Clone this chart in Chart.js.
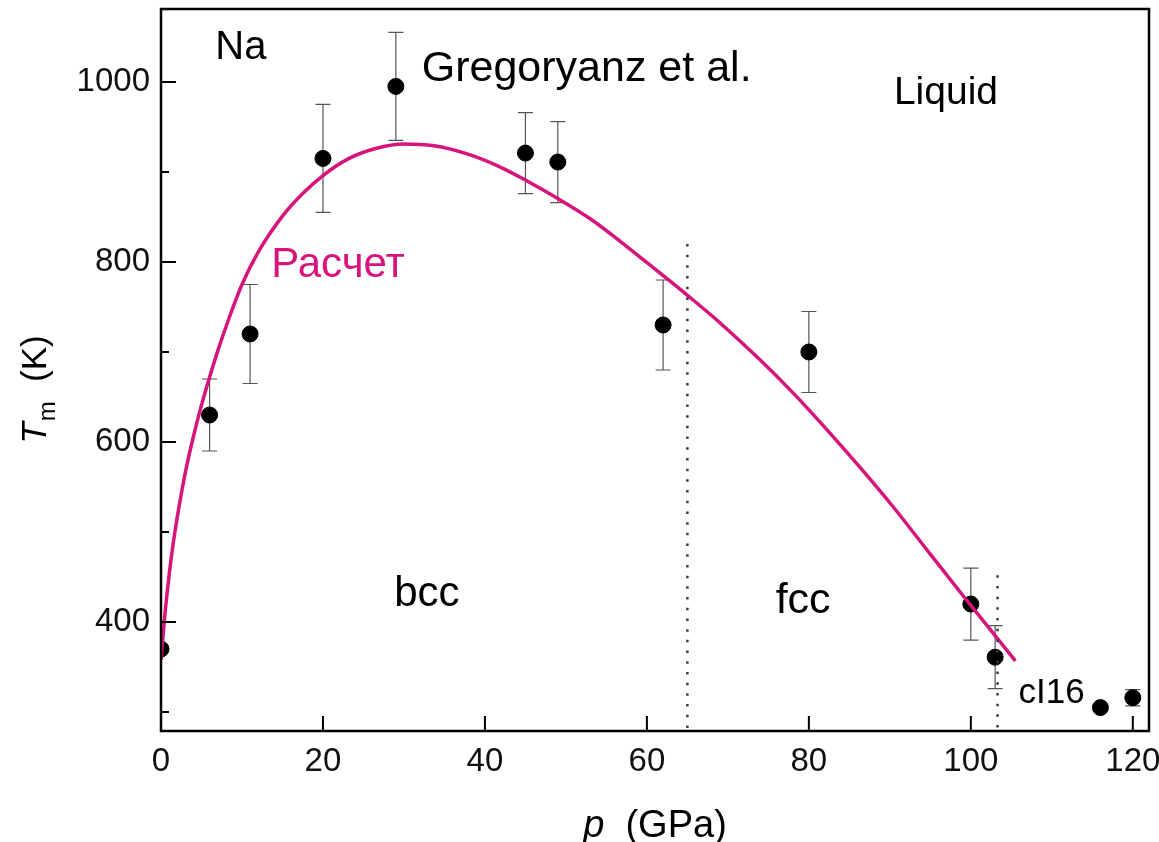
<!DOCTYPE html>
<html><head><meta charset="utf-8">
<script src="https://cdn.jsdelivr.net/npm/chart.js@4.4.1/dist/chart.umd.min.js"></script>
<style>html,body{margin:0;padding:0;background:#fff}#wrap{width:1159px;height:842px}</style>
</head><body><div id="wrap"><canvas id="c" width="1159" height="842"></canvas></div>
<script>
// Experimental data (Gregoryanz et al.)
const expP   = [0, 6, 11, 20, 29, 45, 49, 62, 80, 100, 103, 116, 120];
const expT   = [370, 630, 720, 915, 995, 921, 911, 730, 700, 420, 361, 305, 316];
const expErr = [0, 40, 55, 60, 60, 45, 45, 50, 45, 40, 35, 0, 9];
// Calculated melting curve (Расчет)
const calcP = [0, 0.5, 1, 1.5, 2, 3, 4, 5, 6, 7, 8.5, 10, 12, 15, 17.5, 20, 23, 26.5, 30, 33.7, 37.8, 41.5, 45.2, 49.1, 53, 56.7, 61.7, 65, 68.7, 74, 78.1, 82.3, 86.4, 90.5, 94.6, 98.8, 102.9, 105.5];
const calcT = [358, 410, 452, 487, 516, 566, 606, 641, 672, 701, 740, 775, 811, 851, 876, 896, 914, 926, 931, 929, 920, 907, 890, 870, 848, 823, 787, 763, 735, 691, 654, 613, 571, 527, 480, 432, 386, 357];
// Phase boundaries (dotted)
const boundaryP   = [65, 103.3];
const boundaryTop = [820, 452];
// Ticks
const xTicks = [0, 20, 40, 60, 80, 100, 120];
const yTicks = [400, 600, 800, 1000];
const yMinorTicks = [300, 500, 700, 900];
// Axis ranges
const xRange = [0, 122];
const yRange = [279, 1081];
// Text labels
const labelTexts = ['Na', 'Gregoryanz et al.', 'Liquid', 'Расчет', 'bcc', 'fcc', 'cI16'];
const labelP = [6.7, 32.2, 90.5, 13.6, 28.8, 75.9, 105.9];
const labelT = [1025, 1001, 975, 783, 418, 410, 310];

const FONT = '"Liberation Sans", Arial, sans-serif';
const MAGENTA = '#d6147c';
const labelFontPx = [40, 43, 39, 42, 42, 43, 35];
Chart.defaults.font.family = FONT;

const curveData = calcP.map((p, i) => ({x: p, y: calcT[i]}));
const expData = expP.map((p, i) => ({x: p, y: expT[i], e: expErr[i]}));
const boundaryDatasets = boundaryP.map((p, i) => ({
  type: 'line',
  data: [{x: p, y: boundaryTop[i]}, {x: p, y: yRange[0]}],
  borderColor: '#3a3a3a',
  borderWidth: 2.5,
  borderDash: [2.5, 8.2],
  pointRadius: 0,
  fill: false
}));

const errorBars = {
  id: 'errorBars',
  beforeDatasetsDraw(chart) {
    const {ctx, scales: {x, y}} = chart;
    ctx.save();
    ctx.strokeStyle = '#555';
    ctx.lineWidth = 1.2;
    expData.forEach(d => {
      if (!d.e) return;
      const px = x.getPixelForValue(d.x);
      const y1 = y.getPixelForValue(d.y + d.e);
      const y2 = y.getPixelForValue(d.y - d.e);
      ctx.beginPath();
      ctx.moveTo(px, y1); ctx.lineTo(px, y2);
      ctx.moveTo(px - 7.5, y1); ctx.lineTo(px + 7.5, y1);
      ctx.moveTo(px - 7.5, y2); ctx.lineTo(px + 7.5, y2);
      ctx.stroke();
    });
    ctx.restore();
  }
};

const decor = {
  id: 'decor',
  afterDraw(chart) {
    const {ctx, chartArea: a, scales: {x, y}} = chart;
    ctx.save();
    // frame
    ctx.strokeStyle = '#000';
    ctx.lineWidth = 2.5;
    ctx.strokeRect(a.left, a.top, a.right - a.left, a.bottom - a.top);
    // inside ticks
    ctx.lineWidth = 2;
    ctx.beginPath();
    xTicks.forEach(v => { const px = x.getPixelForValue(v); ctx.moveTo(px, a.bottom); ctx.lineTo(px, a.bottom - 15); });
    yTicks.forEach(v => { const py = y.getPixelForValue(v); ctx.moveTo(a.left, py); ctx.lineTo(a.left + 15, py); });
    yMinorTicks.forEach(v => { const py = y.getPixelForValue(v); ctx.moveTo(a.left, py); ctx.lineTo(a.left + 8, py); });
    ctx.stroke();
    // annotations
    ctx.textBaseline = 'alphabetic';
    ctx.textAlign = 'left';
    labelTexts.forEach((t, i) => {
      ctx.font = labelFontPx[i] + 'px ' + FONT;
      ctx.fillStyle = t === 'Расчет' ? MAGENTA : '#000';
      ctx.fillText(t, x.getPixelForValue(labelP[i]), y.getPixelForValue(labelT[i]));
    });
    // x title: p (GPa)
    ctx.fillStyle = '#000';
    const cx = (a.left + a.right) / 2;
    ctx.font = 'italic 38px ' + FONT;
    const w1 = ctx.measureText('p').width;
    ctx.font = '38px ' + FONT;
    const w2 = ctx.measureText('  (GPa)').width;
    let sx = cx - (w1 + w2) / 2;
    ctx.font = 'italic 38px ' + FONT;
    ctx.fillText('p', sx, 837);
    ctx.font = '38px ' + FONT;
    ctx.fillText('  (GPa)', sx + w1, 837);
    // y title: T_m (K)
    ctx.translate(46, 390);
    ctx.rotate(-Math.PI / 2);
    ctx.font = 'italic 35px ' + FONT;
    const tw = ctx.measureText('T').width;
    ctx.font = '24px ' + FONT;
    const mw = ctx.measureText('m').width;
    ctx.font = '35px ' + FONT;
    const kw = ctx.measureText('  (K)').width;
    let ty = -(tw + mw + kw) / 2;
    ctx.font = 'italic 35px ' + FONT;
    ctx.fillText('T', ty, 0);
    ctx.font = '24px ' + FONT;
    ctx.fillText('m', ty + tw + 1, 9);
    ctx.font = '35px ' + FONT;
    ctx.fillText('  (K)', ty + tw + mw + 1, 0);
    ctx.restore();
  }
};

function zeroPad(s) { s.paddingLeft = 0; s.paddingRight = 0; s.paddingTop = 0; s.paddingBottom = 0; }

new Chart(document.getElementById('c'), {
  type: 'scatter',
  data: {
    datasets: [
      ...boundaryDatasets,
      {
        type: 'line',
        data: curveData,
        borderColor: MAGENTA,
        borderWidth: 3.5,
        pointRadius: 0,
        cubicInterpolationMode: 'monotone',
        fill: false
      },
      {
        data: expData,
        backgroundColor: '#000',
        borderColor: '#000',
        pointRadius: 8,
        pointHoverRadius: 8
      }
    ]
  },
  options: {
    responsive: false,
    animation: false,
    events: [],
    layout: {padding: {top: 8, right: 10, left: 0, bottom: 0}},
    plugins: {legend: {display: false}, tooltip: {enabled: false}},
    scales: {
      x: {
        type: 'linear', min: xRange[0], max: xRange[1],
        grid: {display: false, drawTicks: false},
        border: {display: false},
        afterBuildTicks: s => { s.ticks = xTicks.map(v => ({value: v})); },
        afterFit: s => { s.height = 111; zeroPad(s); },
        ticks: {color: '#111', font: {size: 33, family: FONT}, padding: 11, maxRotation: 0, callback: v => String(v)}
      },
      y: {
        type: 'linear', min: yRange[0], max: yRange[1],
        grid: {display: false, drawTicks: false},
        border: {display: false},
        afterBuildTicks: s => { s.ticks = yTicks.map(v => ({value: v})); },
        afterFit: s => { s.width = 161; zeroPad(s); },
        ticks: {color: '#111', font: {size: 33, family: FONT}, padding: 11, callback: v => String(v)}
      }
    }
  },
  plugins: [errorBars, decor]
});
</script>
</body></html>
